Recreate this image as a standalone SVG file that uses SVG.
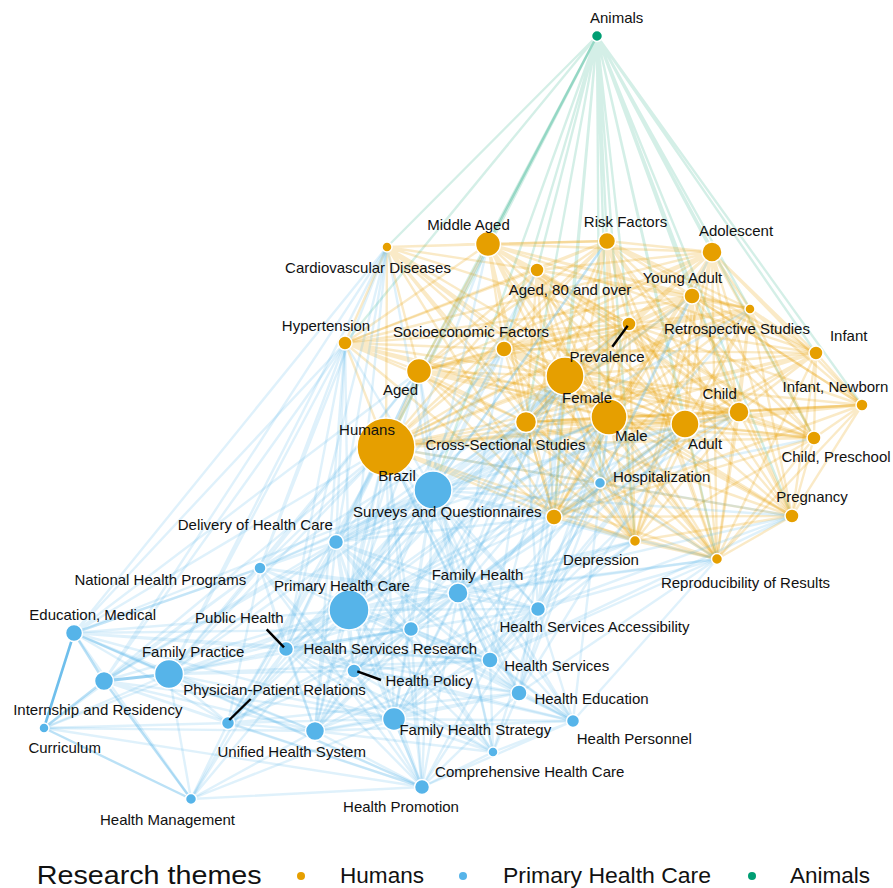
<svg xmlns="http://www.w3.org/2000/svg" width="893" height="888" viewBox="0 0 893 888">
<style>
.e{fill:none;stroke-width:2.4;stroke-linecap:round}
.eg{stroke:#009E73;stroke-opacity:0.17}
.eo{stroke:#E69F00;stroke-opacity:0.22}
.eb{stroke:#56B4E9;stroke-opacity:0.19}
.eb2{stroke:#56B4E9;stroke-opacity:0.4;stroke-width:2.4}
.n circle{stroke:#fff;stroke-width:1.5}
.o{fill:#E69F00}.b{fill:#56B4E9}.g{fill:#009E73}
text{font-family:"Liberation Sans",Arial,Helvetica,sans-serif;font-size:15px;fill:#111;text-anchor:middle}
.lead{stroke:#000;stroke-width:2.4;fill:none}
.leg{font-size:22px;text-anchor:start}
.legt{font-size:25px;text-anchor:start}
</style>
<rect width="893" height="888" fill="#fff"/>
<g id="connectors">
<path class="e eg" d="M597 36L387 247M597 36L607 241M597 36L712 252M597 36L537 270M597 36L692 296M597 36L750 309M597 36L345 343M597 36L504 349M597 36L629 324M597 36L419 371M597 36L565 376M597 36L816 353M597 36L609 417M597 36L739 412M597 36L862 405M597 36L386 447M597 36L526 422M597 36L685 424M597 36L814 438M597 36L554 517M597 36L792 516M597 36L635 541M597 36L717 559M597 36L433 490M597 36L600 483"/>
<path class="e eg" style="stroke-opacity:0.3" d="M597 36L488 244"/>
<path class="e eo" d="M387 247L488 244M387 247L607 241M387 247L537 270M387 247L345 343M387 247L504 349M387 247L419 371M387 247L565 376M387 247L609 417M387 247L386 447M387 247L526 422M387 247L685 424M387 247L554 517M387 247L635 541M387 247L629 324"/>
<path class="e eo" d="M488 244L607 241M488 244L712 252M488 244L537 270M488 244L692 296M488 244L750 309M488 244L345 343M488 244L504 349M488 244L629 324M488 244L419 371M488 244L565 376M488 244L609 417M488 244L739 412M488 244L386 447M488 244L526 422M488 244L685 424M488 244L554 517M488 244L635 541M488 244L717 559M488 244L816 353M488 244L814 438"/>
<path class="e eo" d="M607 241L712 252M607 241L537 270M607 241L692 296M607 241L750 309M607 241L345 343M607 241L504 349M607 241L629 324M607 241L419 371M607 241L565 376M607 241L609 417M607 241L739 412M607 241L386 447M607 241L526 422M607 241L685 424M607 241L554 517M607 241L635 541M607 241L717 559M607 241L816 353M607 241L862 405M607 241L814 438M607 241L792 516"/>
<path class="e eo" d="M712 252L537 270M712 252L692 296M712 252L750 309M712 252L345 343M712 252L504 349M712 252L629 324M712 252L419 371M712 252L565 376M712 252L816 353M712 252L609 417M712 252L739 412M712 252L862 405M712 252L386 447M712 252L526 422M712 252L685 424M712 252L814 438M712 252L554 517M712 252L792 516M712 252L635 541M712 252L717 559"/>
<path class="e eo" d="M537 270L692 296M537 270L750 309M537 270L345 343M537 270L504 349M537 270L629 324M537 270L419 371M537 270L565 376M537 270L609 417M537 270L739 412M537 270L386 447M537 270L526 422M537 270L685 424M537 270L554 517M537 270L635 541M537 270L717 559"/>
<path class="e eo" d="M692 296L750 309M692 296L345 343M692 296L504 349M692 296L629 324M692 296L419 371M692 296L565 376M692 296L816 353M692 296L609 417M692 296L739 412M692 296L862 405M692 296L386 447M692 296L526 422M692 296L685 424M692 296L814 438M692 296L554 517M692 296L792 516M692 296L635 541M692 296L717 559"/>
<path class="e eo" d="M750 309L504 349M750 309L629 324M750 309L419 371M750 309L565 376M750 309L816 353M750 309L609 417M750 309L739 412M750 309L862 405M750 309L386 447M750 309L526 422M750 309L685 424M750 309L814 438M750 309L554 517M750 309L792 516M750 309L635 541M750 309L717 559"/>
<path class="e eo" d="M345 343L504 349M345 343L629 324M345 343L419 371M345 343L565 376M345 343L609 417M345 343L386 447M345 343L526 422M345 343L685 424M345 343L554 517"/>
<path class="e eo" d="M504 349L629 324M504 349L419 371M504 349L565 376M504 349L816 353M504 349L609 417M504 349L739 412M504 349L386 447M504 349L526 422M504 349L685 424M504 349L814 438M504 349L554 517M504 349L792 516M504 349L635 541M504 349L717 559"/>
<path class="e eo" d="M629 324L419 371M629 324L565 376M629 324L816 353M629 324L609 417M629 324L739 412M629 324L862 405M629 324L386 447M629 324L526 422M629 324L685 424M629 324L814 438M629 324L554 517M629 324L792 516M629 324L635 541M629 324L717 559"/>
<path class="e eo" d="M419 371L565 376M419 371L609 417M419 371L739 412M419 371L386 447M419 371L526 422M419 371L685 424M419 371L554 517M419 371L635 541M419 371L717 559"/>
<path class="e eo" d="M565 376L816 353M565 376L609 417M565 376L739 412M565 376L862 405M565 376L386 447M565 376L526 422M565 376L685 424M565 376L814 438M565 376L554 517M565 376L792 516M565 376L635 541M565 376L717 559"/>
<path class="e eo" d="M816 353L609 417M816 353L739 412M816 353L862 405M816 353L386 447M816 353L526 422M816 353L685 424M816 353L814 438M816 353L554 517M816 353L792 516M816 353L717 559"/>
<path class="e eo" d="M609 417L739 412M609 417L862 405M609 417L386 447M609 417L526 422M609 417L685 424M609 417L814 438M609 417L554 517M609 417L792 516M609 417L635 541M609 417L717 559"/>
<path class="e eo" d="M739 412L862 405M739 412L386 447M739 412L526 422M739 412L685 424M739 412L814 438M739 412L554 517M739 412L792 516M739 412L635 541M739 412L717 559"/>
<path class="e eo" d="M862 405L386 447M862 405L526 422M862 405L685 424M862 405L814 438M862 405L554 517M862 405L792 516M862 405L717 559"/>
<path class="e eo" d="M386 447L526 422M386 447L685 424M386 447L814 438M386 447L554 517M386 447L792 516M386 447L635 541M386 447L717 559"/>
<path class="e eo" d="M526 422L685 424M526 422L814 438M526 422L554 517M526 422L792 516M526 422L635 541M526 422L717 559"/>
<path class="e eo" d="M685 424L814 438M685 424L554 517M685 424L792 516M685 424L635 541M685 424L717 559"/>
<path class="e eo" d="M814 438L554 517M814 438L792 516M814 438L635 541M814 438L717 559"/>
<path class="e eo" d="M554 517L792 516M554 517L635 541M554 517L717 559"/>
<path class="e eo" d="M792 516L635 541M792 516L717 559M635 541L717 559"/>
<path class="e eb" d="M433 490L386 447M433 490L565 376M433 490L609 417M433 490L685 424M433 490L526 422M433 490L419 371M433 490L504 349M433 490L345 343M433 490L554 517M433 490L635 541M433 490L717 559M433 490L792 516M433 490L739 412M433 490L488 244M433 490L607 241M433 490L537 270M433 490L387 247M433 490L692 296M433 490L629 324M433 490L750 309M433 490L600 483M433 490L336 542M433 490L260 568M433 490L349 610M433 490L458 593M433 490L538 609M433 490L74 633M433 490L286 649M433 490L411 629M433 490L169 674M433 490L490 660M433 490L104 681M433 490L354 671M433 490L228 723M433 490L519 693M433 490L394 719M433 490L315 731M433 490L573 721M433 490L493 752M433 490L422 787"/>
<path class="e eb" d="M600 483L386 447M600 483L565 376M600 483L609 417M600 483L685 424M600 483L526 422M600 483L739 412M600 483L554 517M600 483L635 541M600 483L717 559M600 483L712 252M600 483L692 296M600 483L349 610M600 483L458 593M600 483L538 609M600 483L490 660M600 483L519 693M600 483L394 719M600 483L336 542M600 483L750 309M600 483L814 438M600 483L792 516"/>
<path class="e eb" d="M336 542L386 447M336 542L345 343M336 542L387 247M336 542L419 371M336 542L565 376M336 542L609 417M336 542L526 422M336 542L554 517M336 542L504 349M336 542L260 568M336 542L349 610M336 542L458 593M336 542L538 609M336 542L74 633M336 542L286 649M336 542L411 629M336 542L169 674M336 542L490 660M336 542L104 681M336 542L354 671M336 542L228 723M336 542L519 693M336 542L394 719M336 542L315 731M336 542L573 721M336 542L493 752M336 542L422 787M336 542L191 799M336 542L685 424M336 542L488 244"/>
<path class="e eb" d="M260 568L386 447M260 568L345 343M260 568L419 371M260 568L565 376M260 568L387 247M260 568L349 610M260 568L458 593M260 568L538 609M260 568L74 633M260 568L286 649M260 568L411 629M260 568L169 674M260 568L490 660M260 568L104 681M260 568L354 671M260 568L228 723M260 568L394 719M260 568L315 731M260 568L422 787M260 568L44 728M260 568L609 417"/>
<path class="e eb" d="M349 610L386 447M349 610L345 343M349 610L387 247M349 610L419 371M349 610L565 376M349 610L609 417M349 610L526 422M349 610L685 424M349 610L504 349M349 610L488 244M349 610L554 517M349 610L635 541M349 610L717 559M349 610L458 593M349 610L538 609M349 610L74 633M349 610L286 649M349 610L411 629M349 610L169 674M349 610L490 660M349 610L104 681M349 610L354 671M349 610L228 723M349 610L519 693M349 610L394 719M349 610L315 731M349 610L573 721M349 610L493 752M349 610L422 787M349 610L191 799M349 610L44 728M349 610L607 241M349 610L537 270"/>
<path class="e eb" d="M458 593L386 447M458 593L565 376M458 593L609 417M458 593L526 422M458 593L685 424M458 593L554 517M458 593L635 541M458 593L717 559M458 593L504 349M458 593L419 371M458 593L538 609M458 593L286 649M458 593L411 629M458 593L490 660M458 593L354 671M458 593L228 723M458 593L519 693M458 593L394 719M458 593L315 731M458 593L573 721M458 593L493 752M458 593L422 787M458 593L169 674M458 593L739 412M458 593L792 516"/>
<path class="e eb" d="M538 609L386 447M538 609L565 376M538 609L609 417M538 609L685 424M538 609L526 422M538 609L554 517M538 609L635 541M538 609L717 559M538 609L792 516M538 609L739 412M538 609L286 649M538 609L411 629M538 609L490 660M538 609L354 671M538 609L519 693M538 609L394 719M538 609L315 731M538 609L573 721M538 609L493 752M538 609L422 787M538 609L692 296"/>
<path class="e eb" d="M74 633L345 343M74 633L386 447M74 633L387 247M74 633L286 649M74 633L228 723M74 633L315 731M74 633L422 787M74 633L191 799M74 633L411 629M74 633L394 719M74 633L419 371M74 633L490 660"/>
<path class="e eb" d="M286 649L386 447M286 649L565 376M286 649L345 343M286 649L419 371M286 649L609 417M286 649L411 629M286 649L169 674M286 649L490 660M286 649L354 671M286 649L228 723M286 649L519 693M286 649L394 719M286 649L315 731M286 649L573 721M286 649L493 752M286 649L422 787M286 649L191 799M286 649L387 247"/>
<path class="e eb" d="M411 629L386 447M411 629L565 376M411 629L609 417M411 629L526 422M411 629L685 424M411 629L490 660M411 629L354 671M411 629L228 723M411 629L519 693M411 629L394 719M411 629L315 731M411 629L573 721M411 629L493 752M411 629L422 787M411 629L169 674M411 629L635 541"/>
<path class="e eb" d="M169 674L345 343M169 674L386 447M169 674L44 728M169 674L228 723M169 674L315 731M169 674L422 787M169 674L191 799M169 674L394 719M169 674L354 671M169 674L387 247M169 674L490 660M169 674L419 371"/>
<path class="e eb" d="M490 660L386 447M490 660L565 376M490 660L609 417M490 660L685 424M490 660L526 422M490 660L635 541M490 660L717 559M490 660L354 671M490 660L519 693M490 660L394 719M490 660L315 731M490 660L573 721M490 660L493 752M490 660L422 787M490 660L792 516"/>
<path class="e eb" d="M104 681L345 343M104 681L228 723M104 681L315 731M104 681L422 787M104 681L394 719M104 681L387 247M104 681L386 447"/>
<path class="e eb" d="M354 671L386 447M354 671L565 376M354 671L609 417M354 671L228 723M354 671L519 693M354 671L394 719M354 671L315 731M354 671L573 721M354 671L493 752M354 671L422 787M354 671L526 422"/>
<path class="e eb" d="M228 723L386 447M228 723L315 731M228 723L422 787M228 723L191 799M228 723L394 719M228 723L519 693M228 723L44 728M228 723L565 376"/>
<path class="e eb" d="M519 693L386 447M519 693L565 376M519 693L609 417M519 693L394 719M519 693L315 731M519 693L573 721M519 693L493 752M519 693L422 787M519 693L717 559M519 693L685 424"/>
<path class="e eb" d="M394 719L386 447M394 719L565 376M394 719L609 417M394 719L315 731M394 719L573 721M394 719L493 752M394 719L422 787M394 719L191 799M394 719L685 424"/>
<path class="e eb" d="M315 731L386 447M315 731L345 343M315 731L422 787M315 731L191 799M315 731L44 728M315 731L493 752M315 731L573 721M315 731L565 376"/>
<path class="e eb" d="M573 721L386 447M573 721L493 752M573 721L422 787M573 721L717 559M573 721L609 417"/>
<path class="e eb" d="M44 728L422 787M493 752L422 787M422 787L191 799M422 787L386 447"/>
<path class="e eb2" d="M74 633L169 674M74 633L104 681M104 681L44 728M104 681L191 799M44 728L191 799"/>
<path class="e eb2" style="stroke-opacity:0.6;stroke-width:3" d="M104 681L169 674"/>
<path class="e eb2" style="stroke-opacity:0.85;stroke-width:2.6" d="M74 633L44 728"/>
</g>
<g id="nodes">
<g id="n-humans" class="n"><circle class="o" cx="386" cy="447" r="29"/><text x="367" y="435">Humans</text></g>
<g id="n-primary-health-care" class="n"><circle class="b" cx="349" cy="610" r="20"/><text x="342" y="590.5">Primary Health Care</text></g>
<g id="n-male" class="n"><circle class="o" cx="609" cy="417" r="18"/><text x="631.3" y="440.7">Male</text></g>
<g id="n-female" class="n"><circle class="o" cx="565" cy="376" r="19"/><text x="587" y="403.4">Female</text></g>
<g id="n-brazil" class="n"><circle class="b" cx="433" cy="490" r="19"/><text x="397" y="481.4">Brazil</text></g>
<g id="n-family-practice" class="n"><circle class="b" cx="169" cy="674" r="14.5"/><text x="193.2" y="656.7">Family Practice</text></g>
<g id="n-adult" class="n"><circle class="o" cx="685" cy="424" r="14"/><text x="705" y="449">Adult</text></g>
<g id="n-middle-aged" class="n"><circle class="o" cx="488" cy="244" r="12.5"/><text x="468.5" y="230">Middle Aged</text></g>
<g id="n-aged" class="n"><circle class="o" cx="419" cy="371" r="12.5"/><text x="400.5" y="395">Aged</text></g>
<g id="n-family-health-strategy" class="n"><circle class="b" cx="394" cy="719" r="11.5"/><text x="475.3" y="734.7">Family Health Strategy</text></g>
<g id="n-cross-sectional" class="n"><circle class="o" cx="526" cy="422" r="10.5"/><text x="505.5" y="450">Cross-Sectional Studies</text></g>
<g id="n-adolescent" class="n"><circle class="o" cx="712" cy="252" r="10"/><text x="736" y="236">Adolescent</text></g>
<g id="n-child" class="n"><circle class="o" cx="739" cy="412" r="10"/><text x="719.7" y="399">Child</text></g>
<g id="n-family-health" class="n"><circle class="b" cx="458" cy="593" r="10"/><text x="477.5" y="579.7">Family Health</text></g>
<g id="n-internship" class="n"><circle class="b" cx="104" cy="681" r="9.5"/><text x="97.8" y="715">Internship and Residency</text></g>
<g id="n-unified-health-system" class="n"><circle class="b" cx="315" cy="731" r="9.5"/><text x="291.7" y="757.4">Unified Health System</text></g>
<g id="n-risk-factors" class="n"><circle class="o" cx="607" cy="241" r="8.5"/><text x="625.5" y="227">Risk Factors</text></g>
<g id="n-education-medical" class="n"><circle class="b" cx="74" cy="633" r="8.5"/><text x="92.7" y="619.7">Education, Medical</text></g>
<g id="n-young-adult" class="n"><circle class="o" cx="692" cy="296" r="8"/><text x="682.5" y="283">Young Adult</text></g>
<g id="n-socioeconomic" class="n"><circle class="o" cx="504" cy="349" r="8"/><text x="471" y="336.7">Socioeconomic Factors</text></g>
<g id="n-surveys" class="n"><circle class="o" cx="554" cy="517" r="8"/><text x="447.3" y="517.4">Surveys and Questionnaires</text></g>
<g id="n-health-services" class="n"><circle class="b" cx="490" cy="660" r="8"/><text x="556.7" y="671.4">Health Services</text></g>
<g id="n-health-education" class="n"><circle class="b" cx="519" cy="693" r="8"/><text x="591.5" y="704">Health Education</text></g>
<g id="n-delivery" class="n"><circle class="b" cx="336" cy="542" r="7.5"/><text x="255.3" y="529.7">Delivery of Health Care</text></g>
<g id="n-accessibility" class="n"><circle class="b" cx="538" cy="609" r="7.5"/><text x="594.5" y="632.4">Health Services Accessibility</text></g>
<g id="n-public-health" class="n"><circle class="b" cx="286" cy="649" r="7.5"/><text x="239.3" y="623.4">Public Health</text><path class="lead" d="M266.7 629.3L284 647.3"/></g>
<g id="n-hs-research" class="n"><circle class="b" cx="411" cy="629" r="7.5"/><text x="390.3" y="654">Health Services Research</text></g>
<g id="n-health-promotion" class="n"><circle class="b" cx="422" cy="787" r="7.5"/><text x="401" y="811.7">Health Promotion</text></g>
<g id="n-hypertension" class="n"><circle class="o" cx="345" cy="343" r="7"/><text x="326" y="330.7">Hypertension</text></g>
<g id="n-aged-80" class="n"><circle class="o" cx="537" cy="270" r="7"/><text x="570" y="295">Aged, 80 and over</text></g>
<g id="n-prevalence" class="n"><circle class="o" cx="629" cy="324" r="7"/><text x="607" y="362.4">Prevalence</text><path class="lead" d="M627.7 325.7L612.3 346.7"/></g>
<g id="n-infant" class="n"><circle class="o" cx="816" cy="353" r="7"/><text x="848.7" y="341.4">Infant</text></g>
<g id="n-child-preschool" class="n"><circle class="o" cx="814" cy="438" r="7"/><text x="836" y="462.4">Child, Preschool</text></g>
<g id="n-pregnancy" class="n"><circle class="o" cx="792" cy="516" r="7"/><text x="812" y="502.4">Pregnancy</text></g>
<g id="n-health-policy" class="n"><circle class="b" cx="354" cy="671" r="7"/><text x="429.3" y="685.7">Health Policy</text><path class="lead" d="M357.3 671.3L381 680"/></g>
<g id="n-physician-patient" class="n"><circle class="b" cx="228" cy="723" r="6.5"/><text x="274.5" y="694.7">Physician-Patient Relations</text><path class="lead" d="M250.7 699L229.3 720"/></g>
<g id="n-health-personnel" class="n"><circle class="b" cx="573" cy="721" r="6.5"/><text x="634.3" y="744">Health Personnel</text></g>
<g id="n-infant-newborn" class="n"><circle class="o" cx="862" cy="405" r="6"/><text x="835.5" y="391.7">Infant, Newborn</text></g>
<g id="n-national-programs" class="n"><circle class="b" cx="260" cy="568" r="6"/><text x="160.3" y="585">National Health Programs</text></g>
<g id="n-animals" class="n"><circle class="g" cx="597" cy="36" r="5.5"/><text x="616.7" y="23.4">Animals</text></g>
<g id="n-depression" class="n"><circle class="o" cx="635" cy="541" r="5.5"/><text x="601" y="564.7">Depression</text></g>
<g id="n-reproducibility" class="n"><circle class="o" cx="717" cy="559" r="5.5"/><text x="745.5" y="588">Reproducibility of Results</text></g>
<g id="n-hospitalization" class="n"><circle class="b" cx="600" cy="483" r="5.5"/><text x="661.7" y="482.4">Hospitalization</text></g>
<g id="n-health-management" class="n"><circle class="b" cx="191" cy="799" r="5.5"/><text x="167.5" y="824.7">Health Management</text></g>
<g id="n-cardiovascular" class="n"><circle class="o" cx="387" cy="247" r="5"/><text x="368" y="273">Cardiovascular Diseases</text></g>
<g id="n-retrospective" class="n"><circle class="o" cx="750" cy="309" r="5"/><text x="737" y="334">Retrospective Studies</text></g>
<g id="n-curriculum" class="n"><circle class="b" cx="44" cy="728" r="5"/><text x="64.7" y="753">Curriculum</text></g>
<g id="n-comprehensive" class="n"><circle class="b" cx="493" cy="752" r="5"/><text x="529.7" y="776.7">Comprehensive Health Care</text></g>
</g>
<g id="legend">
<text class="legt" x="36.7" y="884" textLength="225" lengthAdjust="spacingAndGlyphs">Research themes</text>
<circle class="o" cx="301" cy="876" r="4"/>
<text class="leg" x="340" y="883" textLength="84" lengthAdjust="spacingAndGlyphs">Humans</text>
<circle class="b" cx="463" cy="876" r="4"/>
<text class="leg" x="503" y="883" textLength="208" lengthAdjust="spacingAndGlyphs">Primary Health Care</text>
<circle class="g" cx="752" cy="876" r="4"/>
<text class="leg" x="790" y="883" textLength="80" lengthAdjust="spacingAndGlyphs">Animals</text>
</g>
</svg>
